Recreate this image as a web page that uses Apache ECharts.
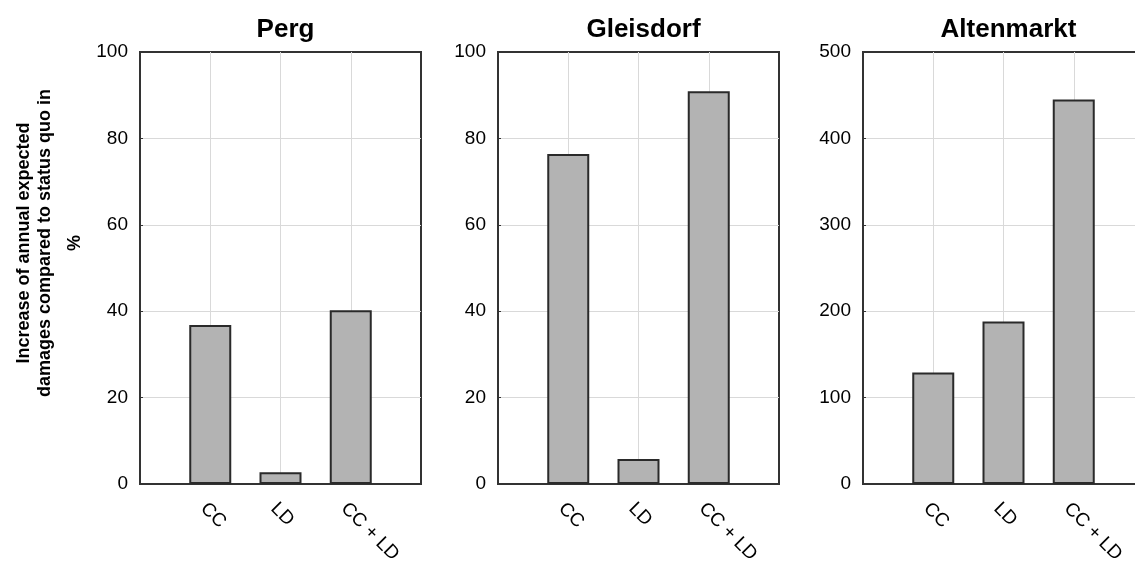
<!DOCTYPE html>
<html>
<head>
<meta charset="utf-8">
<script src="https://cdn.jsdelivr.net/npm/echarts@6/dist/echarts.min.js"></script>
<style>
html,body{margin:0;padding:0;background:#fff;}
#chart{width:1135px;height:562px;}
</style>
</head>
<body>
<div id="chart"></div>
<script>
// ---- data ----
const categories = ['CC', 'LD', 'CC + LD'];
const panelTitles = ['Perg', 'Gleisdorf', 'Altenmarkt'];
const pergValues = [36.8, 2.7, 40.2];
const gleisdorfValues = [76.4, 5.8, 90.9];
const altenmarktValues = [129, 188, 445];
const yMaxes = [100, 100, 500];
const yIntervals = [20, 20, 100];
const yLabelLines = ['Increase of annual expected', 'damages compared to status quo in', '%'];

const panelValues = [pergValues, gleisdorfValues, altenmarktValues];

// ---- layout ----
const FONT = '"Liberation Sans", Arial, sans-serif';
const gridLefts = [140, 498, 863];
const gridW = 281, gridTop = 52, gridH = 432;

const chart = echarts.init(document.getElementById('chart'), null, {renderer: 'canvas'});

const grids = [], xAxes = [], yAxes = [], series = [], titles = [];
panelValues.forEach((vals, i) => {
  grids.push({
    left: gridLefts[i], top: gridTop, width: gridW, height: gridH,
    show: true, borderColor: '#333', borderWidth: 2, backgroundColor: '#fff',
    containLabel: false, outerBoundsMode: 'none', z: 0
  });
  xAxes.push({
    gridIndex: i, type: 'value', min: 0, max: categories.length + 1, interval: 1,
    axisLine: {show: false},
    axisTick: {show: true, inside: true, length: 3, lineStyle: {color: '#333'}},
    splitLine: {show: true, showMinLine: false, showMaxLine: false, lineStyle: {color: '#d9d9d9', width: 1}},
    axisLabel: {
      rotate: -45, margin: 15, verticalAlign: 'top', color: '#000', fontFamily: FONT, fontSize: 19,
      formatter: v => (v >= 1 && v <= categories.length) ? categories[v - 1] : ''
    }
  });
  yAxes.push({
    gridIndex: i, type: 'value', min: 0, max: yMaxes[i], interval: yIntervals[i],
    axisLine: {show: false},
    axisTick: {show: true, inside: true, length: 3, lineStyle: {color: '#333'}},
    splitLine: {show: true, showMinLine: false, showMaxLine: false, lineStyle: {color: '#d9d9d9', width: 1}},
    axisLabel: {color: '#000', fontFamily: FONT, fontSize: 19, margin: 12}
  });
  series.push({
    type: 'bar', xAxisIndex: i, yAxisIndex: i, barWidth: 42,
    itemStyle: {color: '#b3b3b3', borderColor: '#2a2a2a', borderWidth: 2},
    data: vals.map((v, k) => [k + 1, v]),
    z: 3
  });
  titles.push({
    text: panelTitles[i], left: gridLefts[i] + gridW / 2, top: 12, textAlign: 'center',
    textStyle: {fontFamily: FONT, fontSize: 26, fontWeight: 'bold', color: '#000'}
  });
});

const labelX = [24, 45, 75];
const graphic = yLabelLines.map((t, k) => ({
  type: 'text', x: labelX[k], y: 243, rotation: Math.PI / 2,
  style: {text: t, fill: '#000', font: 'bold 18px ' + FONT, textAlign: 'center', textVerticalAlign: 'middle'}
}));

chart.setOption({
  animation: false,
  title: titles,
  grid: grids,
  xAxis: xAxes,
  yAxis: yAxes,
  series: series,
  graphic: graphic
});
</script>
</body>
</html>
